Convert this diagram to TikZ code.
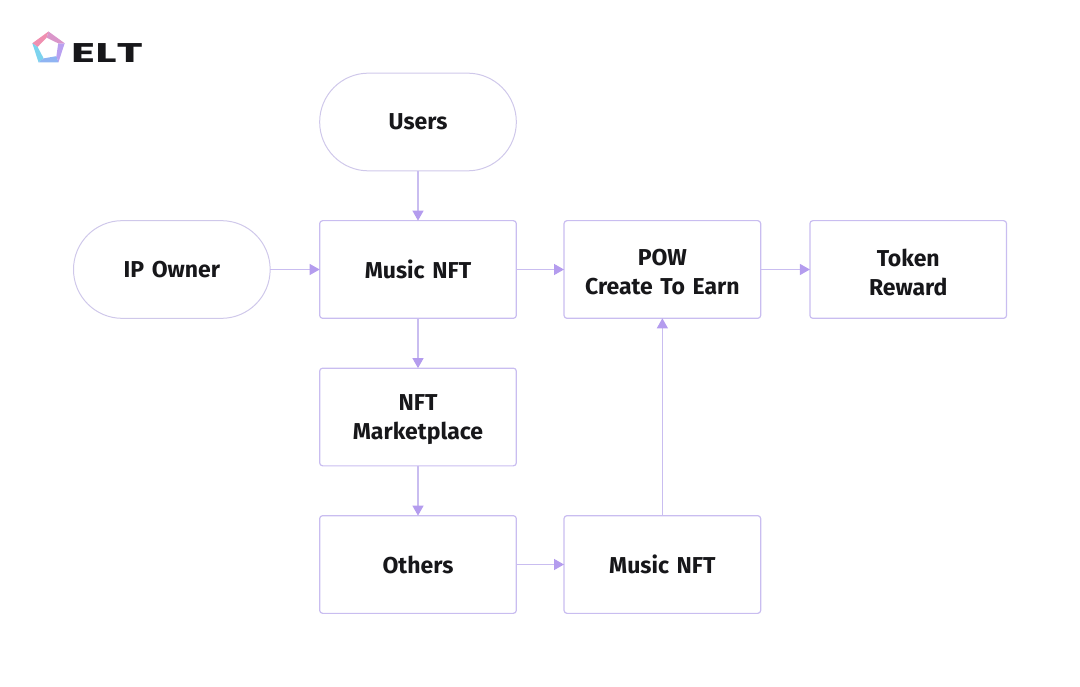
\documentclass[tikz,border=0pt]{standalone}
\usepackage{fontspec}
\setmainfont{Fira Sans}
\newfontfamily\logofont{Poppins}
\usepackage{tikz}
\usetikzlibrary{
	arrows.meta,
	positioning,
	calc
}
\definecolor{linepurple}{HTML}{C9BDF0}
\definecolor{tippurple}{HTML}{B49CEE}
\definecolor{pillline}{HTML}{CFC8EA}
\definecolor{labelblack}{HTML}{17171A}
\definecolor{logopink}{HTML}{F08FB0}
\definecolor{logoviolet}{HTML}{B9A0F0}
\definecolor{logoblue}{HTML}{8FB4F2}
\definecolor{logocyan}{HTML}{7CD3EE}

\begin{document}
\begin{tikzpicture}[
    x=1pt, y=1pt,
    node distance=49.8pt and 48pt,
    box/.style={rectangle, draw=linepurple, line width=1.2pt, rounded corners=3pt, outer sep=0pt, text width=190pt, align=center, minimum width=196pt, minimum height=97.7pt, font=\fontsize{23}{29}\selectfont\bfseries, text=labelblack, execute at end node={\endgraf\vspace*{-5pt}}},
    pill/.style={box, draw=pillline, line width=1pt, rounded corners=48.8pt},
    arrow/.style={draw=linepurple, line width=1.2pt, -{Triangle[length=10pt,width=11pt,fill=tippurple,color=tippurple]}}
]
\useasboundingbox (0,0) rectangle (1080,-687);

% Nodes
\node[pill] at (418,-122) (users) {Users};
\node[box, below=of users] (musicnft) {Music NFT};
\node[pill, left=of musicnft, xshift=-1.5pt] (ipowner) {IP Owner};
\node[box, right=of musicnft, xshift=-0.3pt] (pow) {POW\\Create To Earn};
\node[box, right=of pow, xshift=1.2pt] (reward) {Token\\Reward};
\node[box, below=of musicnft] (market) {NFT\\Marketplace};
\node[box, below=of market] (others) {Others};
\node[box, right=of others, xshift=-0.3pt] (musicnfttwo) {Music NFT};

% Arrows
\draw[arrow] (users) -- (musicnft);
\draw[arrow] (ipowner) -- (musicnft);
\draw[arrow] (musicnft) -- (pow);
\draw[arrow] (pow) -- (reward);
\draw[arrow] (musicnft) -- (market);
\draw[arrow] (market) -- (others);
\draw[arrow] (others) -- (musicnfttwo);
\draw[arrow] (musicnfttwo) -- (pow);

% Logo
\coordinate (logomark) at (48.5,-48.5);
\foreach \k/\c in {0/logopink, 1/logocyan, 2/logoblue, 3/logoviolet, 4/logopink!60!logoviolet}
    \fill[\c] ($(logomark)+(90+72*\k:17)$) -- ($(logomark)+(162+72*\k:17)$) -- ($(logomark)+(172+72*\k:11)$) -- ($(logomark)+(100+72*\k:11)$) -- cycle;
\node[font=\logofont\fontsize{27}{27}\selectfont\bfseries, text=labelblack, inner sep=0pt] at (107,-53) (logotext) {\scalebox{1.65}[1]{ELT}};

\end{tikzpicture}
\end{document}
